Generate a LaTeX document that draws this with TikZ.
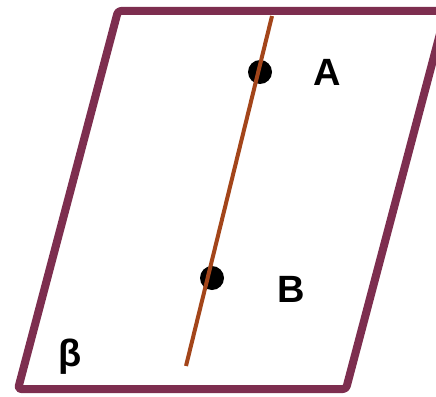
\documentclass[tikz,border=0pt]{standalone}
\usepackage{fontspec}
\setmainfont{Liberation Sans}
\usepackage{tikz}
\definecolor{planeedge}{HTML}{7D2E4F}
\definecolor{linebrown}{HTML}{A3451A}

\begin{document}
\begin{tikzpicture}[
  x=1pt, y=-1pt,
  plane/.style={draw=planeedge, line width=8pt, line join=round, rounded corners=3pt},
  lineab/.style={draw=linebrown, line width=4pt},
  dot/.style={circle, fill=black, inner sep=0pt, minimum size=24pt},
  ptlabel/.style={font=\fontsize{38}{38}\selectfont\bfseries, inner sep=0pt}
]
\useasboundingbox (0,0) rectangle (436,396);
\clip (0,0) rectangle (436,396);
% plane beta
\draw[plane] (118,11) -- (446,11) -- (346,389) -- (18,389) -- cycle;
\node[font=\fontsize{38}{38}\selectfont\bfseries, inner sep=0pt] (beta) at (70,357) {β};
% points and line
\node[dot] (A) at (260,72) {};
\node[dot] (B) at (212,278) {};
\coordinate (top) at (272,16);
\coordinate (bot) at (186,366);
\draw[lineab] (top) -- (bot);
\node[ptlabel] (labA) at (327,72) {A};
\node[ptlabel] (labB) at (291,289) {B};
\end{tikzpicture}
\end{document}
